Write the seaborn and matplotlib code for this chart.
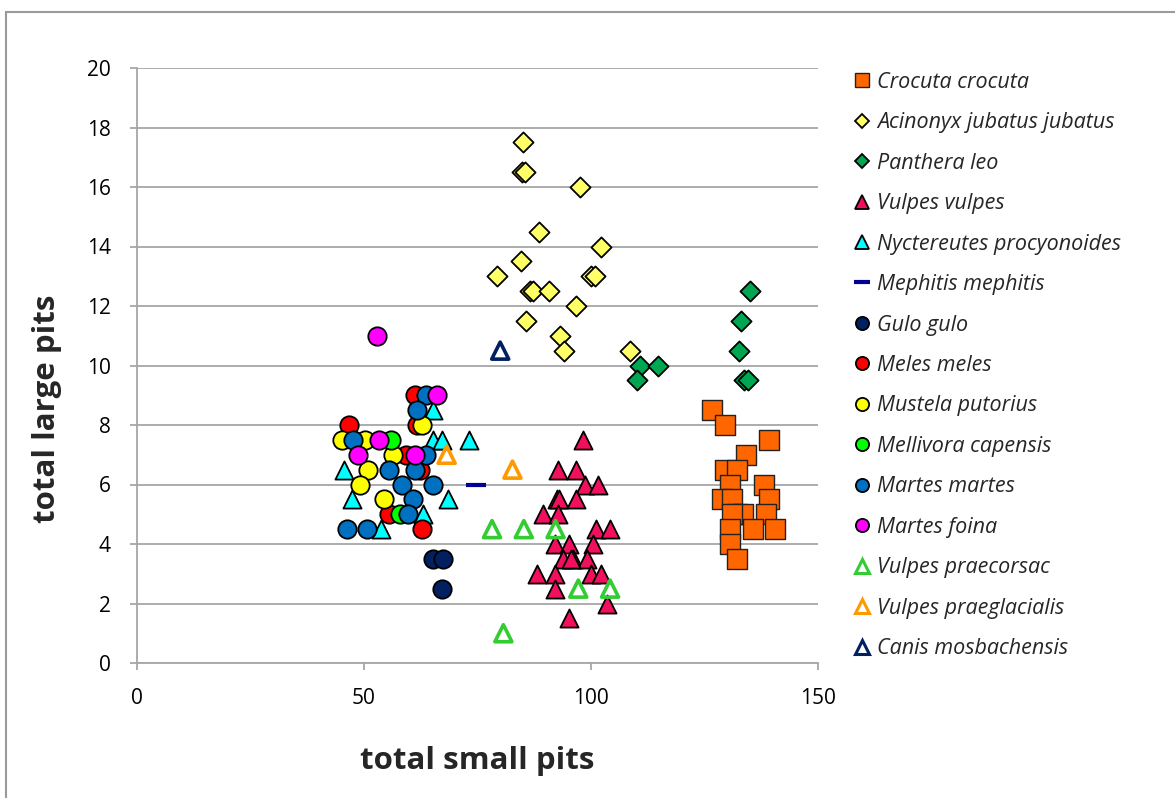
import matplotlib
matplotlib.use("Agg")
import matplotlib.pyplot as plt
from matplotlib.lines import Line2D
from matplotlib.patches import Rectangle
import seaborn as sns
import pandas as pd

# ---------------- data ----------------
crocuta_x = [126.6, 129.6, 139.1, 134.1, 129.6, 132.1, 130.6, 138.1, 128.8, 131.0, 139.1, 132.1, 133.5, 138.5, 131.0, 130.6, 135.6, 140.5, 130.6, 132.1]
crocuta_y = [8.5, 8.0, 7.5, 7.0, 6.5, 6.5, 6.0, 6.0, 5.5, 5.5, 5.5, 5.0, 5.0, 5.0, 5.0, 4.5, 4.5, 4.5, 4.0, 3.5]

acinonyx_x = [85.1, 84.7, 85.5, 97.6, 88.6, 102.1, 84.6, 79.2, 100.1, 100.9, 86.6, 87.3, 90.7, 96.6, 85.6, 93.2, 94.1, 108.6]
acinonyx_y = [17.5, 16.5, 16.5, 16.0, 14.5, 14.0, 13.5, 13.0, 13.0, 13.0, 12.5, 12.5, 12.5, 12.0, 11.5, 11.0, 10.5, 10.5]

panthera_x = [135.0, 133.0, 132.6, 133.7, 134.6, 110.8, 114.8, 110.1]
panthera_y = [12.5, 11.5, 10.5, 9.5, 9.5, 10.0, 10.0, 9.5]

vulpes_x = [98.2, 92.7, 96.7, 98.7, 101.6, 92.6, 93.0, 96.7, 89.5, 92.7, 101.1, 104.2, 92.1, 95.2, 100.5,
            93.8, 96.0, 99.1, 95.6, 88.2, 92.1, 100.1, 102.1, 92.1, 103.6, 95.2]
vulpes_y = [7.5, 6.5, 6.5, 6.0, 6.0, 5.5, 5.5, 5.5, 5.0, 5.0, 4.5, 4.5, 4.0, 4.0, 4.0,
            3.5, 3.5, 3.5, 3.5, 3.0, 3.0, 3.0, 3.0, 2.5, 2.0, 1.5]

nyct_x = [65.3, 65.3, 67.1, 73.2, 45.6, 47.3, 68.6, 62.9, 53.7]
nyct_y = [8.5, 7.5, 7.5, 7.5, 6.5, 5.5, 5.5, 5.0, 4.5]

mephitis_x = [74.7]
mephitis_y = [6.0]

gulo_x = [65.3, 67.5, 67.1]
gulo_y = [3.5, 3.5, 2.5]

meles_x = [61.2, 46.8, 61.6, 59.3, 62.3, 55.4, 62.7]
meles_y = [9.0, 8.0, 8.0, 7.0, 6.5, 5.0, 4.5]

mustela_x = [62.7, 45.1, 50.2, 56.3, 50.8, 49.1, 54.3]
mustela_y = [8.0, 7.5, 7.5, 7.0, 6.5, 6.0, 5.5]

mellivora_x = [55.9, 57.9]
mellivora_y = [7.5, 5.0]

martes_x = [63.7, 61.7, 47.6, 55.4, 61.2, 63.7, 58.3, 65.3, 60.7, 59.8, 46.2, 50.6]
martes_y = [9.0, 8.5, 7.5, 6.5, 6.5, 7.0, 6.0, 6.0, 5.5, 5.0, 4.5, 4.5]

foina_x = [52.8, 66.1, 53.4, 48.7, 61.2]
foina_y = [11.0, 9.0, 7.5, 7.0, 7.0]

praecorsac_x = [78.2, 85.2, 92.2, 97.2, 104.2, 80.7]
praecorsac_y = [4.5, 4.5, 4.5, 2.5, 2.5, 1.0]

praeglacialis_x = [68.2, 82.7]
praeglacialis_y = [7.0, 6.5]

canis_x = [80.0]
canis_y = [10.5]

species = ["Crocuta crocuta", "Acinonyx jubatus jubatus", "Panthera leo", "Vulpes vulpes",
           "Nyctereutes procyonoides", "Mephitis mephitis", "Gulo gulo", "Meles meles",
           "Mustela putorius", "Mellivora capensis", "Martes martes", "Martes foina",
           "Vulpes praecorsac", "Vulpes praeglacialis", "Canis mosbachensis"]
xs = [crocuta_x, acinonyx_x, panthera_x, vulpes_x, nyct_x, mephitis_x, gulo_x, meles_x,
      mustela_x, mellivora_x, martes_x, foina_x, praecorsac_x, praeglacialis_x, canis_x]
ys = [crocuta_y, acinonyx_y, panthera_y, vulpes_y, nyct_y, mephitis_y, gulo_y, meles_y,
      mustela_y, mellivora_y, martes_y, foina_y, praecorsac_y, praeglacialis_y, canis_y]

x_ticks = [0, 50, 100, 150]
y_ticks = list(range(0, 21, 2))

# ---------------- styles ----------------
# (marker, face, edge, size, linewidth)
styles = {
    "Crocuta crocuta": ("s", "#FF6600", "#222222", 190, 1.0),
    "Acinonyx jubatus jubatus": ("D", "#FFFF66", "#000000", 105, 1.3),
    "Panthera leo": ("D", "#00A651", "#000000", 105, 1.3),
    "Vulpes vulpes": ("^", "#F0105E", "#000000", 170, 1.3),
    "Nyctereutes procyonoides": ("^", "#00FFFF", "#000000", 170, 1.3),
    "Mephitis mephitis": ("_", "#000099", "#000099", 200, 3.0),
    "Gulo gulo": ("o", "#002060", "#000000", 175, 1.3),
    "Meles meles": ("o", "#FF0000", "#000000", 175, 1.3),
    "Mustela putorius": ("o", "#FFFF00", "#000000", 175, 1.3),
    "Mellivora capensis": ("o", "#00FF00", "#000000", 175, 1.3),
    "Martes martes": ("o", "#0070C0", "#000000", 175, 1.3),
    "Martes foina": ("o", "#FF00FF", "#000000", 175, 1.3),
    "Vulpes praecorsac": ("^", "none", "#33CC33", 150, 2.6),
    "Vulpes praeglacialis": ("^", "none", "#FF9900", 150, 2.6),
    "Canis mosbachensis": ("^", "none", "#002060", 150, 2.6),
}

sns.set_theme(style="white")
plt.rcParams["font.family"] = ["Open Sans", "DejaVu Sans"]

fig = plt.figure(figsize=(11.75, 7.98), dpi=100)
ax = fig.add_axes([137 / 1175, 1 - 663 / 798, (818 - 137) / 1175, (663 - 68) / 798])

handles = []
for name, x, y in zip(species, xs, ys):
    df = pd.DataFrame({"x": x, "y": y})
    m, fc, ec, s, lw = styles[name]
    if m == "_":
        sns.scatterplot(data=df, x="x", y="y", ax=ax, marker=m, s=s, color=fc,
                        linewidth=lw, zorder=3)
        handles.append(Line2D([], [], marker=m, linestyle="none", color=fc,
                              markersize=11, markeredgewidth=lw, label=name))
    else:
        sns.scatterplot(data=df, x="x", y="y", ax=ax, marker=m, s=s, facecolor=fc,
                        edgecolor=ec, linewidth=lw, zorder=3)
        handles.append(Line2D([], [], marker=m, linestyle="none", markerfacecolor=fc,
                              markeredgecolor=ec, markersize=9.5 if m != "D" else 7.5,
                              markeredgewidth=lw if m != "^" or fc != "none" else 2.2,
                              label=name))

ax.set_xlim(0, 150)
ax.set_ylim(0, 20)
ax.set_xticks(x_ticks)
ax.set_yticks(y_ticks)
ax.yaxis.grid(True, color="#A6A6A6", linewidth=1.3)
ax.xaxis.grid(False)
ax.set_axisbelow(True)
for sp in ["top", "right"]:
    ax.spines[sp].set_visible(False)
for sp in ["left", "bottom"]:
    ax.spines[sp].set_color("#A6A6A6")
    ax.spines[sp].set_linewidth(1.3)
ax.tick_params(axis="both", which="major", labelsize=15, colors="#A6A6A6",
               labelcolor="black", length=5, width=1.3, direction="out",
               bottom=True, left=True)
ax.tick_params(axis="y", pad=14)
ax.tick_params(axis="x", pad=13)

ax.set_xlabel("total small pits", fontsize=22.5, fontweight="bold", labelpad=27)
ax.set_ylabel("total large pits", fontsize=22.5, fontweight="bold")
ax.yaxis.set_label_coords((62 - 137) / 681, (663 - 409) / 595)

leg = ax.legend(handles=handles, loc="upper left", bbox_to_anchor=(843 / 1175, 1 - 63 / 798),
                bbox_transform=fig.transFigure, frameon=False, prop={"style": "italic", "size": 15.5},
                labelspacing=0.905, handletextpad=0.2, handlelength=1.0, borderaxespad=0)

fig.patches.append(Rectangle((6 / 1175, -0.05), 1.1, 1.05 - 12 / 798 + 0.0, transform=fig.transFigure,
                             fill=False, edgecolor="#9A9A9A", linewidth=1.5))

fig.savefig("out.png", dpi=100, facecolor="white")
